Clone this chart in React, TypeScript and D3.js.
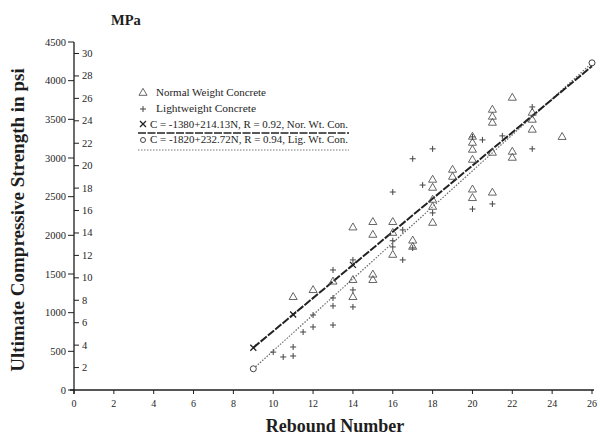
import React from 'react';
import * as d3 from 'd3';

const W = 600;
const H = 438;

// Axis ticks
const xTicks = d3.range(0, 27, 2);
const psiTicks = d3.range(0, 4501, 500);
const mpaTicks = d3.range(2, 31, 2);
const PSI_PER_MPA = 145.038;

// Normal weight concrete (triangles): [rebound number, psi]
const normalData: [number, number][] = [
  [11, 1200], [12, 1290], [13, 1400], [14, 2100], [14, 1420], [14, 1200],
  [15, 2170], [15, 2005], [15, 1490], [15, 1420], [16, 2170], [16, 2030],
  [16, 1746], [17, 1930], [17, 1850], [18, 2717], [18, 2613], [18, 2458],
  [18, 2367], [18, 2160], [19, 2846], [19, 2755], [20, 3273], [20, 3195],
  [20, 3105], [20, 2975], [20, 2590], [20, 2480], [21, 3622], [21, 3532],
  [21, 3454], [21, 3066], [21, 2550], [22, 3777], [22, 3079], [22, 3001],
  [23, 3583], [23, 3493], [23, 3364], [24.5, 3270],
];

// Lightweight concrete (pluses): [rebound number, psi]
const lightData: [number, number][] = [
  [10, 490], [10.5, 427], [11, 440], [11, 556], [11.5, 750], [12, 815],
  [12, 970], [13, 840], [13, 1087], [13, 1190], [13, 1552], [14, 1074],
  [14, 1294], [14, 1682], [16, 1930], [16, 1850], [16.5, 1682], [17, 1837],
  [16.5, 2070], [16, 2560], [17, 2990], [18, 3118], [17.5, 2650], [18, 2290],
  [20, 3273], [20.5, 3234], [20, 2340], [21, 2406], [21.5, 3286], [23, 3118],
  [23, 3660],
];

// Regression fits
const normalFit = { a: -1380, b: 214.13 };
const lightFit = { a: -1820, b: 232.72 };
const fitRange = [9, 26];
const normalMarkers = [9, 11, 14];
const lightMarkers = [9, 26];

const legendTexts = [
  'Normal Weight Concrete',
  'Lightweight Concrete',
  'C = -1380+214.13N, R = 0.92, Nor. Wt. Con.',
  'C = -1820+232.72N, R = 0.94, Lig. Wt. Con.',
];

const FONT = '"Liberation Serif", "Times New Roman", serif';
const INK = '#1e1e1e';

export default function App() {
  const x = d3.scaleLinear().domain([0, 26]).range([74, 592]);
  const y = d3.scaleLinear().domain([0, 4500]).range([390, 42]);
  const yM = d3.scaleLinear().domain([0, 4500 / PSI_PER_MPA]).range([390, 42]);

  const tri = d3.symbol(d3.symbolTriangle, 28)() as string;
  const plus = 'M-3,0H3M0,-3V3';
  const cross = 'M-3,-3L3,3M-3,3L3,-3';

  const fitLine = (f: { a: number; b: number }) =>
    d3
      .line<number>()
      .x((n) => x(n))
      .y((n) => y(f.a + f.b * n))(fitRange) as string;

  const x0 = x(0);
  const y0 = y(0);

  return (
    <svg
      width={W}
      height={H}
      style={{ position: 'absolute', left: 0, top: 0, background: '#fff' }}
      fontFamily={FONT}
    >
      <rect width={W} height={H} fill="#fff" />

      {/* Y axis */}
      <line x1={x0} x2={x0} y1={y(4500)} y2={y0 + 4} stroke={INK} strokeWidth={1.3} />
      {psiTicks.map((t) => (
        <g key={'p' + t}>
          <line x1={x0 - 6} x2={x0} y1={y(t)} y2={y(t)} stroke={INK} strokeWidth={1} />
          <text x={x0 - 8} y={y(t) + 3.5} textAnchor="end" fontSize={10.5} fill={INK}>
            {t}
          </text>
        </g>
      ))}
      {mpaTicks.map((t) => (
        <g key={'m' + t}>
          <line x1={x0} x2={x0 + 5} y1={yM(t)} y2={yM(t)} stroke={INK} strokeWidth={1} />
          <text x={x0 + 8} y={yM(t) + 3.5} textAnchor="start" fontSize={10.5} fill={INK}>
            {t}
          </text>
        </g>
      ))}
      <text x={111} y={25} fontSize={14.5} fontWeight="bold" fill={INK}>
        MPa
      </text>

      {/* X axis */}
      <line x1={x0 - 4} x2={x(26) + 2} y1={y0} y2={y0} stroke={INK} strokeWidth={1.3} />
      {xTicks.map((t) => (
        <g key={'x' + t}>
          <line x1={x(t)} x2={x(t)} y1={y0} y2={y0 + 4} stroke={INK} strokeWidth={1} />
          <text x={x(t)} y={y0 + 17} textAnchor="middle" fontSize={10} fill={INK}>
            {t}
          </text>
        </g>
      ))}

      {/* Axis titles */}
      <text x={335} y={432} textAnchor="middle" fontSize={18} fontWeight="bold" fill={INK}>
        Rebound Number
      </text>
      <text
        transform={`translate(24, ${(y(0) + y(4500)) / 2 + 4}) rotate(-90)`}
        textAnchor="middle"
        fontSize={19}
        fontWeight="bold"
        fill={INK}
      >
        Ultimate Compressive Strength in psi
      </text>

      {/* Fit lines */}
      <path d={fitLine(lightFit)} fill="none" stroke="#6a6a6a" strokeWidth={1.2} strokeDasharray="1.5,1.5" />
      <path d={fitLine(normalFit)} fill="none" stroke="#222" strokeWidth={2} strokeDasharray="8,1.5" />
      {normalMarkers.map((n) => (
        <path
          key={'nm' + n}
          d={cross}
          transform={`translate(${x(n)},${y(normalFit.a + normalFit.b * n)})`}
          stroke="#222"
          strokeWidth={1.3}
          fill="none"
        />
      ))}
      {lightMarkers.map((n) => (
        <circle
          key={'lm' + n}
          cx={x(n)}
          cy={y(lightFit.a + lightFit.b * n)}
          r={3}
          fill="#fff"
          stroke="#444"
          strokeWidth={1}
        />
      ))}

      {/* Data */}
      {normalData.map(([n, v], i) => (
        <path
          key={'n' + i}
          d={tri}
          transform={`translate(${x(n)},${y(v)})`}
          fill="none"
          stroke="#555"
          strokeWidth={0.9}
        />
      ))}
      {lightData.map(([n, v], i) => (
        <path
          key={'l' + i}
          d={plus}
          transform={`translate(${x(n)},${y(v)})`}
          fill="none"
          stroke="#444"
          strokeWidth={1}
        />
      ))}

      {/* Legend */}
      <g fill={INK} fontSize={10}>
        <path d={tri} transform="translate(143,93)" fill="none" stroke="#555" strokeWidth={0.9} />
        <text x={156} y={96} textLength={110} lengthAdjust="spacingAndGlyphs">{legendTexts[0]}</text>
        <path d={plus} transform="translate(143,109)" fill="none" stroke="#444" strokeWidth={1} />
        <text x={156} y={112} textLength={100} lengthAdjust="spacingAndGlyphs">{legendTexts[1]}</text>
        <path d={cross} transform="translate(143,124)" fill="none" stroke="#222" strokeWidth={1.3} />
        <text x={150} y={128} textLength={198} lengthAdjust="spacingAndGlyphs">
          {legendTexts[2]}
        </text>
        <line x1={138} x2={349} y1={133} y2={133} stroke="#222" strokeWidth={1.3} strokeDasharray="8,1.5" />
        <circle cx={143} cy={140} r={2.5} fill="none" stroke="#444" strokeWidth={1} />
        <text x={150} y={143} textLength={198} lengthAdjust="spacingAndGlyphs">
          {legendTexts[3]}
        </text>
        <line x1={138} x2={349} y1={150} y2={150} stroke="#777" strokeWidth={1.2} strokeDasharray="1.5,1.5" />
      </g>
    </svg>
  );
}
